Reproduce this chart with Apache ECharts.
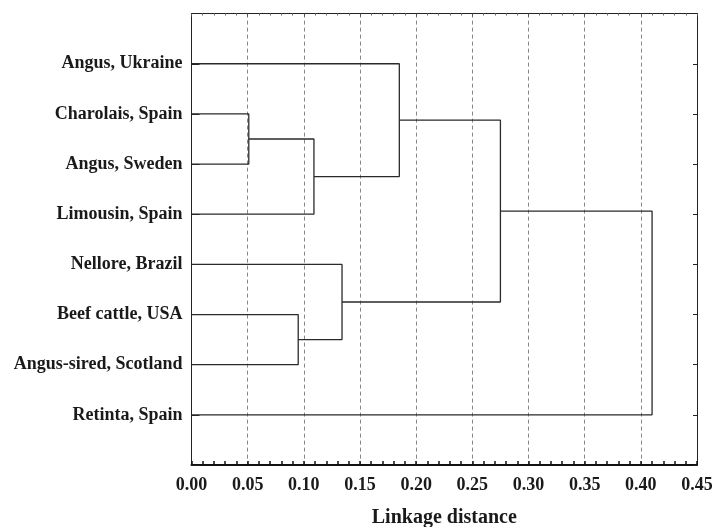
<!DOCTYPE html>
<html>
<head>
<meta charset="utf-8">
<script src="https://cdn.jsdelivr.net/npm/echarts@6/dist/echarts.min.js"></script>
<style>html,body{margin:0;padding:0;background:#fff}#c{width:715px;height:527px}</style>
</head>
<body>
<div id="c"></div>
<script>
// Leaves, top to bottom
const leaves = ['Angus, Ukraine', 'Charolais, Spain', 'Angus, Sweden', 'Limousin, Spain',
  'Nellore, Brazil', 'Beef cattle, USA', 'Angus-sired, Scotland', 'Retinta, Spain'];
// Linkage: cluster ids 8.. are created in order
const linkLeft = [1, 8, 0, 5, 4, 10, 13];
const linkRight = [2, 3, 9, 6, 11, 12, 7];
const linkDistance = [0.051, 0.109, 0.185, 0.095, 0.134, 0.275, 0.410];
const xTicks = [0, 0.05, 0.10, 0.15, 0.20, 0.25, 0.30, 0.35, 0.40, 0.45];

const n = leaves.length;
const nodeY = leaves.map((_, i) => n - i);
const nodeX = leaves.map(() => 0);
const series = [];
linkLeft.forEach((a, k) => {
  const b = linkRight[k], d = linkDistance[k];
  series.push({
    type: 'line', silent: true, symbol: 'none', animation: false,
    lineStyle: { color: '#2a2a2a', width: 1.3 },
    data: [[nodeX[a], nodeY[a]], [d, nodeY[a]], [d, nodeY[b]], [nodeX[b], nodeY[b]]]
  });
  nodeY.push((nodeY[a] + nodeY[b]) / 2);
  nodeX.push(d);
});

const font = 'Liberation Serif';
const chart = echarts.init(document.getElementById('c'));
chart.setOption({
  animation: false,
  grid: { left: 191.5, right: 18, top: 13.6, bottom: 62, containLabel: false, outerBoundsMode: 'none' },
  xAxis: [{
    type: 'value', min: xTicks[0], max: xTicks[xTicks.length - 1], interval: 0.05,
    position: 'bottom',
    name: 'Linkage distance', nameLocation: 'middle', nameGap: 43,
    nameTextStyle: { fontFamily: font, fontWeight: 'bold', fontSize: 20, color: '#1a1a1a' },
    axisLine: { show: true, onZero: false, lineStyle: { color: '#111', width: 2 } },
    axisTick: { show: true, inside: true, length: 4, lineStyle: { color: '#111', width: 1.5 } },
    minorTick: { show: true, splitNumber: 5, length: 4, lineStyle: { color: '#111', width: 1.5 } },
    axisLabel: { fontFamily: font, fontWeight: 'bold', fontSize: 18, color: '#1a1a1a', margin: 11,
      formatter: v => v.toFixed(2) },
    splitLine: { show: true, lineStyle: { color: '#888', type: [4, 3], width: 1 } }
  }, {
    type: 'value', min: xTicks[0], max: xTicks[xTicks.length - 1], interval: 0.05,
    position: 'top',
    axisLine: { show: true, onZero: false, lineStyle: { color: '#222', width: 1 } },
    axisTick: { show: true, inside: true, length: 3, lineStyle: { color: '#555' } },
    minorTick: { show: true, splitNumber: 5, length: 2, lineStyle: { color: '#777' } },
    axisLabel: { show: false },
    splitLine: { show: false }
  }],
  yAxis: [{
    type: 'value', min: 0, max: n + 1, interval: 1, position: 'left',
    axisLine: { show: true, onZero: false, lineStyle: { color: '#222', width: 1 } },
    axisTick: { show: true, inside: true, length: 8, lineStyle: { color: '#222' } },
    axisLabel: { fontFamily: font, fontWeight: 'bold', fontSize: 18, color: '#1a1a1a', margin: 9,
      formatter: v => (v >= 1 && v <= n) ? leaves[n - v] : '' },
    splitLine: { show: false }
  }, {
    type: 'value', min: 0, max: n + 1, interval: 1, position: 'right',
    axisLine: { show: true, onZero: false, lineStyle: { color: '#222', width: 1 } },
    axisTick: { show: true, inside: true, length: 4, lineStyle: { color: '#222' } },
    axisLabel: { show: false },
    splitLine: { show: false }
  }],
  series: series
});
</script>
</body>
</html>
